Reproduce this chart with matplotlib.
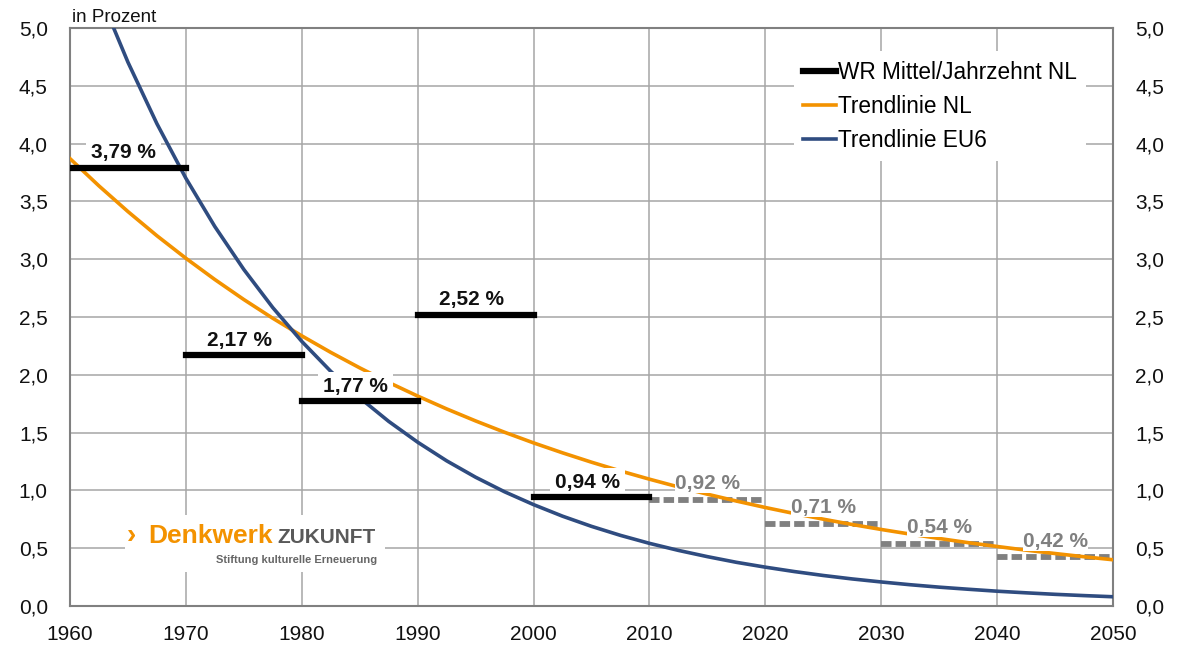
import matplotlib
matplotlib.use("Agg")
import matplotlib.pyplot as plt
from matplotlib.patches import Rectangle
from matplotlib.lines import Line2D

plt.rcParams['font.family'] = ['Liberation Sans', 'DejaVu Sans']

# ---- data ----
years_trend = [1960, 1962.5, 1965, 1967.5, 1970, 1972.5, 1975, 1977.5, 1980, 1982.5,
               1985, 1987.5, 1990, 1992.5, 1995, 1997.5, 2000, 2002.5, 2005, 2007.5,
               2010, 2012.5, 2015, 2017.5, 2020, 2022.5, 2025, 2027.5, 2030, 2032.5,
               2035, 2037.5, 2040, 2042.5, 2045, 2047.5, 2050]
trend_nl = [3.870, 3.634, 3.412, 3.203, 3.008, 2.824, 2.651, 2.489, 2.337, 2.194,
            2.060, 1.934, 1.816, 1.705, 1.601, 1.503, 1.411, 1.325, 1.244, 1.168,
            1.097, 1.030, 0.967, 0.908, 0.852, 0.800, 0.751, 0.705, 0.662, 0.622,
            0.584, 0.548, 0.515, 0.483, 0.454, 0.426, 0.400]
trend_eu6 = [5.980, 5.304, 4.704, 4.172, 3.700, 3.282, 2.911, 2.581, 2.289, 2.030,
             1.801, 1.597, 1.417, 1.256, 1.114, 0.988, 0.877, 0.777, 0.689, 0.611,
             0.542, 0.481, 0.427, 0.378, 0.336, 0.298, 0.264, 0.234, 0.208, 0.184,
             0.163, 0.145, 0.128, 0.114, 0.101, 0.090, 0.080]

decades_actual = [1960, 1970, 1980, 1990, 2000]
means_actual = [3.79, 2.17, 1.77, 2.52, 0.94]
labels_actual = ["3,79 %", "2,17 %", "1,77 %", "2,52 %", "0,94 %"]

decades_proj = [2010, 2020, 2030, 2040]
means_proj = [0.92, 0.71, 0.54, 0.42]
labels_proj = ["0,92 %", "0,71 %", "0,54 %", "0,42 %"]

x_ticks = [1960, 1970, 1980, 1990, 2000, 2010, 2020, 2030, 2040, 2050]
y_ticks = [0.0, 0.5, 1.0, 1.5, 2.0, 2.5, 3.0, 3.5, 4.0, 4.5, 5.0]

# ---- style ----
ORANGE = "#F39200"
BLUE = "#2F4C80"
GRAY = "#808080"
GRID = "#A6A6A6"

W, H = 1183, 649
fig = plt.figure(figsize=(W / 100, H / 100), dpi=100)
ax = fig.add_axes([70 / W, 1 - 606 / H, (1113 - 70) / W, (606 - 28) / H])
ax.set_xlim(1960, 2050)
ax.set_ylim(0, 5)

ax.set_xticks(x_ticks)
ax.set_yticks(y_ticks)
ax.set_xticklabels([str(x) for x in x_ticks])
ax.set_yticklabels([f"{v:.1f}".replace(".", ",") for v in y_ticks])
ax.tick_params(axis='both', length=0, labelsize=15, colors="#111111")
ax.tick_params(axis='y', labelright=True, pad=16)
ax.tick_params(axis='x', pad=14)
ax.grid(True, color=GRID, linewidth=1.1, zorder=0)
ax.set_axisbelow(True)
for s in ax.spines.values():
    s.set_color(GRAY)
    s.set_linewidth(1.5)

# decade mean bars (actual) - drawn above label boxes
for d, m in zip(decades_actual, means_actual):
    ax.plot([d, d + 10], [m, m], color="black", lw=4.5,
            solid_capstyle='projecting', zorder=4.5)
# projected decade means (dashed gray)
for d, m in zip(decades_proj, means_proj):
    ax.plot([d, d + 10], [m, m], color=GRAY, lw=4.2,
            dashes=(1.8, 0.7), dash_capstyle='butt', zorder=2)

# trend lines
ax.plot(years_trend, trend_nl, color=ORANGE, lw=2.6, zorder=3)
ax.plot(years_trend, trend_eu6, color=BLUE, lw=2.6, zorder=3)

# labels
for d, m, t in zip(decades_actual, means_actual, labels_actual):
    ax.annotate(t, (d + 5, m), xytext=(-3, 4), textcoords='offset points',
                ha='center', va='bottom', fontsize=15, fontweight='bold',
                color="#111111", zorder=4,
                bbox=dict(boxstyle='square,pad=0.25', fc='white', ec='none'))
for d, m, t in zip(decades_proj, means_proj, labels_proj):
    ax.annotate(t, (d + 5, m), xytext=(0, 5), textcoords='offset points',
                ha='center', va='bottom', fontsize=15, fontweight='bold',
                color=GRAY, zorder=4,
                bbox=dict(boxstyle='square,pad=0.0', fc='white', ec='none'))

# legend
handles = [Line2D([], [], color="black", lw=4.5),
           Line2D([], [], color=ORANGE, lw=2.6),
           Line2D([], [], color=BLUE, lw=2.6)]
leg = ax.legend(handles, ["WR Mittel/Jahrzehnt NL", "Trendlinie NL", "Trendlinie EU6"],
                loc='upper right', bbox_to_anchor=(0.985, 0.979), fontsize=16.3,
                frameon=True, fancybox=False, edgecolor='none', facecolor='white',
                framealpha=1, handlelength=1.45, handletextpad=0.1,
                labelspacing=0.5, borderpad=0.4)
leg.set_zorder(6)

# unit label
fig.text(72 / W, 1 - 22 / H, "in Prozent", fontsize=13.5, color="#111111",
         ha='left', va='baseline')

# logo
fig.patches.append(Rectangle((125 / W, 1 - 572 / H), (385 - 125) / W, (572 - 515) / H,
                             transform=fig.transFigure, fc='white', ec='none', zorder=4))
fig.text(127 / W, 1 - 543 / H, "›", fontsize=20, fontweight='bold', color=ORANGE,
         ha='left', va='baseline', zorder=5)
fig.text(148 / W, 1 - 543 / H, "Denkwerk", fontsize=19, fontweight='bold', color=ORANGE,
         ha='left', va='baseline', zorder=5)
fig.text(277 / W, 1 - 543 / H, "ZUKUNFT", fontsize=15, fontweight='bold',
         color="#595959", ha='left', va='baseline', zorder=5)
fig.text(377 / W, 1 - 563 / H, "Stiftung kulturelle Erneuerung", fontsize=8,
         fontweight='bold', color="#666666", ha='right', va='baseline', zorder=5)

fig.savefig("out.png", dpi=100)
